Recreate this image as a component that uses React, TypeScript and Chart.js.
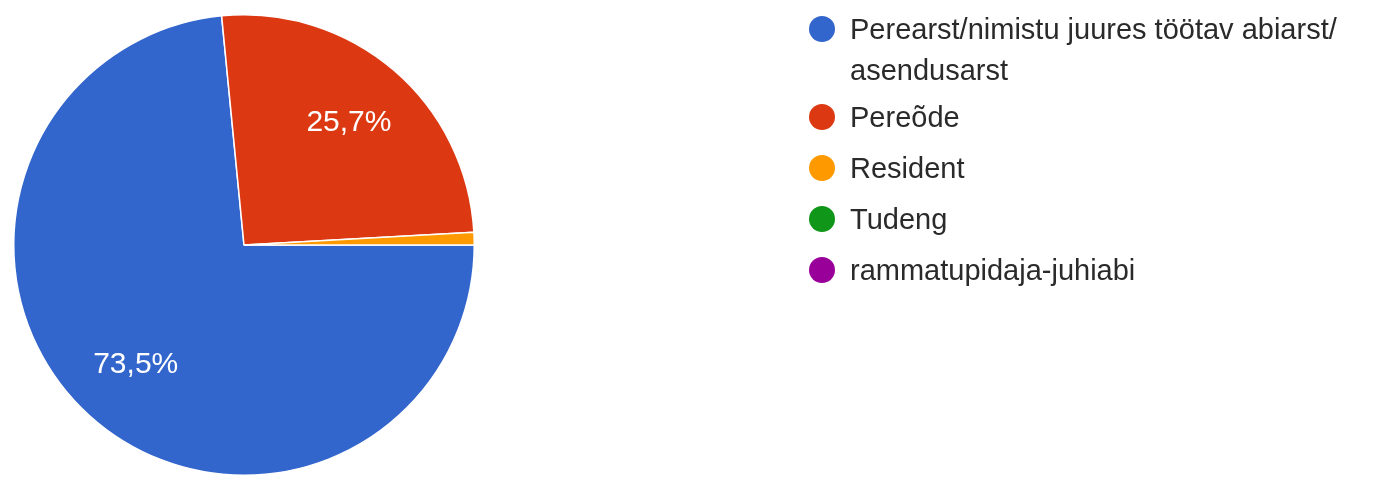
import React, { useEffect, useRef } from "react";
import { Chart, registerables } from "chart.js";

Chart.register(...registerables);

const categories = [
  "Perearst/nimistu juures töötav abiarst/asendusarst",
  "Pereõde",
  "Resident",
  "Tudeng",
  "rammatupidaja-juhiabi",
];
const counts = [83, 29, 1, 0, 0];
const colors = ["#3366cc", "#dc3912", "#ff9900", "#109618", "#990099"];

const FONT = '"Liberation Sans", Arial, Helvetica, sans-serif';

function wrapText(ctx: CanvasRenderingContext2D, text: string, maxWidth: number): string[] {
  const tokens = text.match(/[^\s\/]+\/?\s*|\/\s*/g) || [text];
  const lines: string[] = [];
  let cur = "";
  for (const t of tokens) {
    const test = cur + t;
    if (cur && ctx.measureText(test.trimEnd()).width > maxWidth) {
      lines.push(cur.trimEnd());
      cur = t;
    } else {
      cur = test;
    }
  }
  if (cur) lines.push(cur.trimEnd());
  return lines;
}

const sliceLabels = {
  id: "sliceLabels",
  afterDatasetsDraw(chart: any) {
    const ctx = chart.ctx as CanvasRenderingContext2D;
    const meta = chart.getDatasetMeta(0);
    const data = chart.data.datasets[0].data as number[];
    const total = data.reduce((a, b) => a + b, 0);
    ctx.save();
    ctx.fillStyle = "#ffffff";
    ctx.font = `30px ${FONT}`;
    ctx.textAlign = "center";
    ctx.textBaseline = "middle";
    meta.data.forEach((arc: any, i: number) => {
      const pct = (data[i] / total) * 100;
      if (pct < 5) return;
      const { x, y, startAngle, endAngle, outerRadius } = arc.getProps(
        ["x", "y", "startAngle", "endAngle", "outerRadius"],
        true
      );
      const mid = (startAngle + endAngle) / 2;
      const r = outerRadius * 0.7;
      const txt = pct.toFixed(1).replace(".", ",") + "%";
      ctx.fillText(txt, x + Math.cos(mid) * r, y + Math.sin(mid) * r);
    });
    ctx.restore();
  },
};

const sideLegend = {
  id: "sideLegend",
  afterDraw(chart: any) {
    const ctx = chart.ctx as CanvasRenderingContext2D;
    const labels = chart.data.labels as string[];
    const bg = chart.data.datasets[0].backgroundColor as string[];
    ctx.save();
    ctx.font = `29px ${FONT}`;
    ctx.textAlign = "left";
    ctx.textBaseline = "alphabetic";
    const circleX = 822;
    const textX = 850;
    const maxW = 1374 - textX - 15;
    let y = 39;
    labels.forEach((lab, i) => {
      ctx.fillStyle = bg[i];
      ctx.beginPath();
      ctx.arc(circleX, y - 10, 13, 0, Math.PI * 2);
      ctx.fill();
      ctx.fillStyle = "#2a2a2a";
      const lines = wrapText(ctx, lab, maxW);
      lines.forEach((ln, k) => ctx.fillText(ln, textX, y + k * 41));
      y += 51 + (lines.length - 1) * 37;
    });
    ctx.restore();
  },
};

export default function App() {
  const ref = useRef<HTMLCanvasElement | null>(null);
  useEffect(() => {
    document.body.style.margin = "0";
    if (!ref.current) return;
    const chart = new Chart(ref.current, {
      type: "pie",
      data: {
        labels: categories,
        datasets: [
          {
            data: counts,
            backgroundColor: colors,
            borderColor: "#ffffff",
            borderWidth: 1.5,
          },
        ],
      },
      options: {
        animation: false,
        responsive: true,
        maintainAspectRatio: false,
        rotation: 90,
        layout: { padding: { left: 13, top: 14, right: 899, bottom: 6 } },
        plugins: {
          legend: { display: false },
          tooltip: { enabled: false },
          title: { display: false },
        },
      },
      plugins: [sliceLabels, sideLegend],
    });
    return () => chart.destroy();
  }, []);
  return (
    <div style={{ width: 1374, height: 482, position: "relative", background: "#fff" }}>
      <canvas ref={ref} />
    </div>
  );
}
